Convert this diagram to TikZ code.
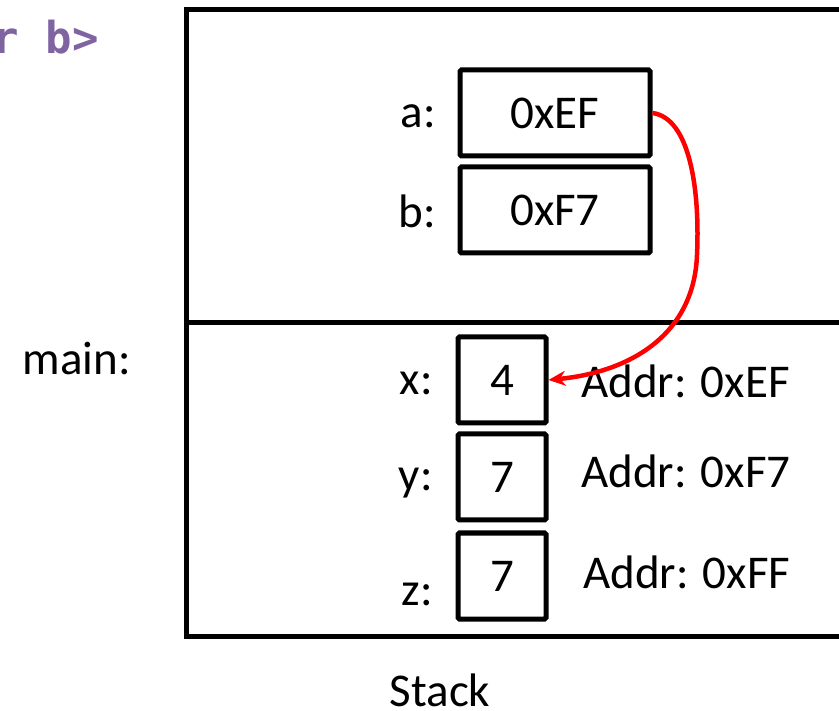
\documentclass[tikz,border=0pt]{standalone}
\usepackage{fontspec}
\setmainfont{Carlito}
\newfontfamily\codefont{DejaVu Sans Mono}
\usetikzlibrary{arrows.meta}
\definecolor{codepurple}{RGB}{128,100,162}
\definecolor{ptrred}{RGB}{255,0,0}
\tikzset{
  cell/.style={draw, line width=5pt, rounded corners=1.5pt, minimum width=#1, minimum height=86pt, inner sep=0pt, font=\fontsize{47}{50}\selectfont},
  cell/.default=190pt,
  lbl/.style={font=\fontsize{47}{50}\selectfont, inner sep=0pt},
  frame/.style={line width=5pt},
  ptr/.style={draw=ptrred, line width=4.5pt, -{Stealth[length=17pt,width=15pt]}}
}
\begin{document}
\begin{tikzpicture}[x=1pt,y=-1pt]
\useasboundingbox (0,0) rectangle (839,711);
\fill[white] (0,0) rectangle (839,711);

% stack frame outline, open to the right
\draw[frame] (845,10) -- (186,10) -- (186,636) -- (845,636);
\draw[frame] (186,323) -- (845,323);

% code fragment
\node[anchor=base east, inner sep=0pt, text=codepurple, font=\codefont\bfseries\fontsize{44}{48}\selectfont] (code) at (99,54) {r b>};

% frame labels
\node[lbl, anchor=base east] (mainlbl) at (131,375) {main:};
\node[lbl, anchor=base] (stacklbl) at (440,706) {Stack};

% pointer cells
\node[cell] (a) at (555,113) {0xEF};
\node[cell] (b) at (555,210) {0xF7};
\node[lbl, anchor=base east] (alab) at (436,128) {a:};
\node[lbl, anchor=base east] (blab) at (436,228) {b:};

% value cells in main
\node[cell=88pt] (x) at (502,380) {4};
\node[cell=88pt] (y) at (502,477) {7};
\node[cell=88pt] (z) at (502,576) {7};
\node[lbl, anchor=base east] (xlab) at (433,395) {x:};
\node[lbl, anchor=base east] (ylab) at (433,490) {y:};
\node[lbl, anchor=base east] (zlab) at (433,605) {z:};

% addresses
\node[lbl, anchor=base west] (xaddr) at (581,398) {Addr: 0xEF};
\node[lbl, anchor=base west] (yaddr) at (581,488) {Addr: 0xF7};
\node[lbl, anchor=base west] (zaddr) at (583,588) {Addr: 0xFF};

% a points to x
\coordinate (bend) at (697,255);
\draw[ptr] (a.east) .. controls (690,118) and (700,190) .. (bend)
  .. controls (694,335) and (630,372) .. (x.east);
\end{tikzpicture}
\end{document}
